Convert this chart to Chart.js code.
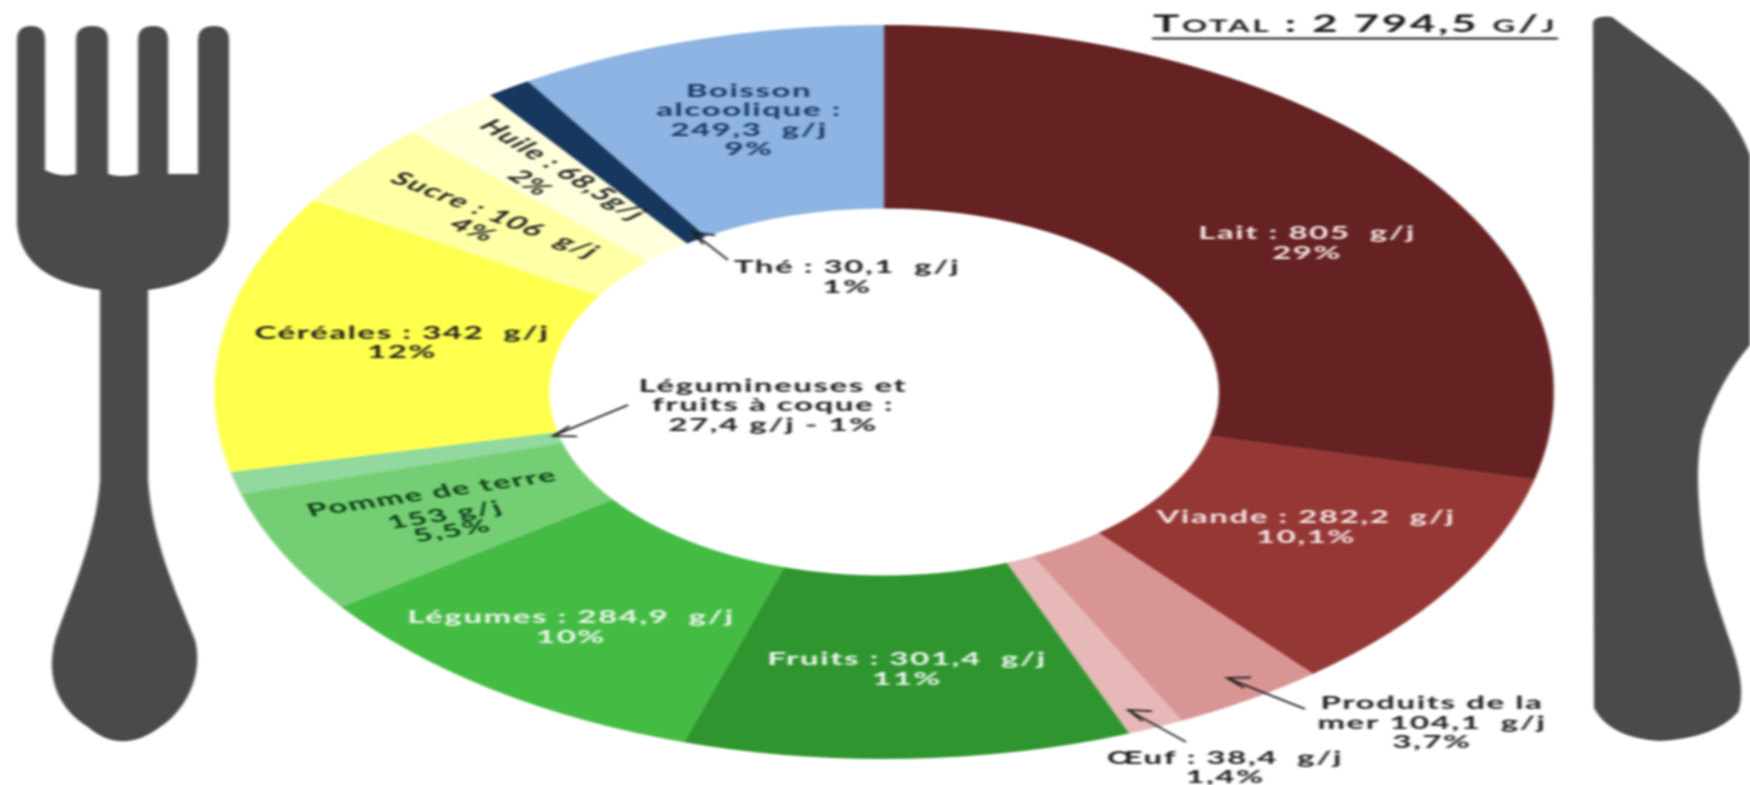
<!DOCTYPE html>
<html lang="fr">
<head>
  <meta charset="UTF-8">
  <title>Consommation alimentaire</title>
  <script src="https://cdn.jsdelivr.net/npm/chart.js"></script>
  <style>
    html, body { margin: 0; padding: 0; background: #fff; overflow: hidden; }
    #wrap { width: 1750px; height: 785px; overflow: hidden; }
    #plate { display: block; transform-origin: 0 0; filter: blur(0.9px); }
  </style>
</head>
<body>
<div id="wrap"><canvas id="plate" width="959" height="785"></canvas></div>

<script>
const categories = ["Lait", "Viande", "Produits de la mer", "Œuf", "Fruits", "Légumes", "Pomme de terre",
  "Légumineuses et fruits à coque", "Céréales", "Sucre", "Huile", "Thé", "Boisson alcoolique"];
const grams = [805, 282.2, 104.1, 38.4, 301.4, 284.9, 153, 27.4, 342, 106, 68.5, 30.1, 249.3];
const sliceColors = ["#662222", "#953735", "#D99594", "#E6B8B7", "#2F962F", "#44BC44", "#74CF74",
  "#92D89F", "#FFFF4D", "#FFFFA6", "#FFFFDC", "#17375E", "#8DB4E2"];
const totalLabel = "Total : 2 794,5 g/j";

// the reference is a picture squeezed sideways, so the whole canvas gets stretched in x
const SX = 1750 / 959;
const DARK = "#1d1d1d";

// x, y are page pixels, angle is before the stretch
const labels = [
  { lines: ["Lait : 805  g/j", "29%"], x: 1307, y: [233, 253], color: "#f6e6e6" },
  { lines: ["Viande : 282,2  g/j", "10,1%"], x: 1306, y: [517, 537], color: "#f6e6e6" },
  { lines: ["Produits de la", "mer 104,1  g/j", "3,7%"], x: 1432, y: [703, 723, 742], color: DARK },
  { lines: ["Œuf : 38,4  g/j", "1,4%"], x: 1225, y: [758, 777], color: DARK },
  { lines: ["Fruits : 301,4  g/j", "11%"], x: 907, y: [659, 679], color: "#eef7ee" },
  { lines: ["Légumes : 284,9  g/j", "10%"], x: 571, y: [617, 637], color: "#eef7ee" },
  { lines: ["Légumineuses et", "fruits à coque :", "27,4 g/j - 1%"], x: 773, y: [386, 405, 425], color: DARK },
  { lines: ["Céréales : 342  g/j", "12%"], x: 402, y: [333, 352], color: DARK },
  { lines: ["Thé : 30,1  g/j", "1%"], x: 847, y: [267, 287], color: DARK },
  { lines: ["Boisson", "alcoolique :", "249,3  g/j", "9%"], x: 749, y: [91, 110, 130, 149], color: "#17375E" },
  { lines: ["Pomme de terre"], x: 432, y: [493], angle: -15, color: "#0c3f16" },
  { lines: ["153 g/j"], x: 445, y: [515], angle: -15, color: "#0c3f16" },
  { lines: ["5,5%"], x: 452, y: [531], angle: -15, color: "#0c3f16" },
  { lines: ["Sucre : 106  g/j"], x: 495, y: [215], angle: 35, color: DARK },
  { lines: ["4%"], x: 473, y: [230], angle: 35, color: DARK },
  { lines: ["Huile : 68,5g/j"], x: 563, y: [170], angle: 48, color: DARK },
  { lines: ["2%"], x: 530, y: [183], angle: 48, color: DARK }
];

const arrows = [
  [728, 260, 692, 232],
  [628, 405, 553, 436],
  [1305, 709, 1227, 678],
  [1186, 742, 1128, 710]
];

const forkPath = new Path2D("M17,40 Q17,26 31,26 Q45,26 45,40 L45,170 Q60,178 76,174 L76,40 Q76,26 92,26 Q108,26 108,40 " +
  "L108,174 Q122,178 138,174 L138,40 Q138,26 153,26 Q168,26 168,40 L168,174 L198,174 L198,40 Q198,26 214,26 Q229,26 229,40 " +
  "L229,225 Q225,280 148,290 L148,480 C152,540 175,590 195,640 C205,680 180,715 160,727 C135,746 110,746 88,727 " +
  "C60,710 45,680 55,640 C68,600 96,540 100,480 L100,290 Q22,280 17,225 Z");
const knifePath = new Path2D("M1593,22 Q1596,15 1612,17 L1690,75 Q1730,105 1750,155 L1750,345 Q1720,380 1703,430 Q1692,470 " +
  "1705,560 Q1712,590 1733,650 Q1746,690 1738,712 Q1715,738 1660,741 Q1610,738 1594,708 Z");

const decorations = {
  id: "decorations",
  beforeDatasetsDraw(chart) {
    const c = chart.ctx;
    c.save();
    c.scale(1 / SX, 1);
    c.fillStyle = "#4a4a4a";
    c.fill(forkPath);
    c.fill(knifePath);
    c.restore();
  },
  afterDatasetsDraw(chart) {
    const c = chart.ctx;
    c.save();
    c.textAlign = "center";
    c.textBaseline = "middle";
    c.font = "700 18px Lato";
    c.letterSpacing = "0.9px";
    labels.forEach(l => {
      c.fillStyle = l.color;
      l.lines.forEach((line, i) => {
        c.save();
        c.translate(l.x / SX, l.y[i]);
        if (l.angle) c.rotate(l.angle * Math.PI / 180);
        c.fillText(line, 0, 0);
        c.restore();
      });
    });

    // title
    c.fillStyle = "#1a1a1a";
    c.font = "small-caps 700 24px Lato";
    c.letterSpacing = "1.5px";
    c.textAlign = "center";
    c.textBaseline = "alphabetic";
    c.fillText(totalLabel, 1355 / SX, 32);
    c.letterSpacing = "0px";
    c.strokeStyle = "#1a1a1a";
    c.lineWidth = 2;
    c.beginPath();
    c.moveTo(1152 / SX, 38.5);
    c.lineTo(1558 / SX, 38.5);
    c.stroke();
    c.restore();

    // arrows in page pixels so the heads keep the reference's shape
    c.save();
    c.scale(1 / SX, 1);
    c.strokeStyle = "#222";
    c.lineWidth = 1.8;
    arrows.forEach(([x1, y1, x2, y2]) => {
      const a = Math.atan2(y2 - y1, x2 - x1);
      c.beginPath();
      c.moveTo(x1, y1);
      c.lineTo(x2, y2);
      c.moveTo(x2 - 24 * Math.cos(a - 0.42), y2 - 14 * Math.sin(a - 0.42));
      c.lineTo(x2, y2);
      c.lineTo(x2 - 24 * Math.cos(a + 0.42), y2 - 14 * Math.sin(a + 0.42));
      c.stroke();
    });
    c.restore();
  }
};

const canvas = document.getElementById("plate");

new Chart(canvas, {
  type: "doughnut",
  data: {
    labels: categories,
    datasets: [{ data: grams, backgroundColor: sliceColors, borderWidth: 0 }]
  },
  options: {
    responsive: false,
    animation: false,
    devicePixelRatio: 2,
    cutout: "50%",
    layout: { padding: { left: 10, right: 0, top: 25, bottom: 26 } },
    plugins: { legend: { display: false }, tooltip: { enabled: false } }
  },
  plugins: [decorations]
});

// Chart.js writes the css size on init, the stretch goes on top of it
canvas.style.transform = "scaleX(" + SX + ")";
</script>
</body>
</html>
